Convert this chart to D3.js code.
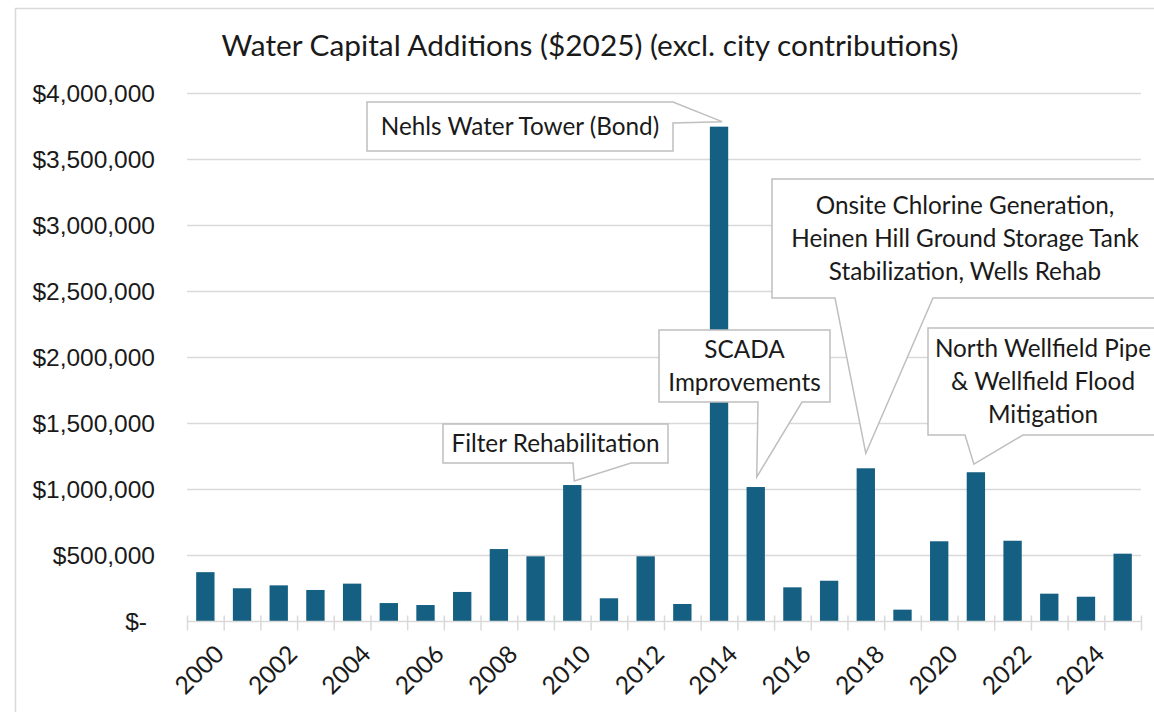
<!DOCTYPE html>
<head>
  <meta charset="utf-8">
  <script src="https://d3js.org/d3.v7.min.js"></script>
  <style>
    body { margin: 0; background: #fff; }
    svg { display: block; }
  </style>
</head>
<body>
  <svg width="1154" height="712"></svg>
  <script>
    // data
    var years = [2000, 2001, 2002, 2003, 2004, 2005, 2006, 2007, 2008, 2009, 2010, 2011, 2012,
                 2013, 2014, 2015, 2016, 2017, 2018, 2019, 2020, 2021, 2022, 2023, 2024, 2025];
    var additions = [370000, 248000, 270000, 235000, 283000, 136000, 121000, 220000, 545000, 490000,
                     1030000, 172000, 490000, 129000, 3745000, 1015000, 255000, 305000, 1157000, 86000,
                     604000, 1127000, 608000, 207000, 184000, 510000];
    var yTicks = [0, 500000, 1000000, 1500000, 2000000, 2500000, 3000000, 3500000, 4000000];
    var xLabelYears = [2000, 2002, 2004, 2006, 2008, 2010, 2012, 2014, 2016, 2018, 2020, 2022, 2024];
    var noteYears = [2014, 2010, 2015, 2018, 2021];
    var noteTexts = [
      ["Nehls Water Tower (Bond)"],
      ["Filter Rehabilitation"],
      ["SCADA", "Improvements"],
      ["Onsite Chlorine Generation,", "Heinen Hill Ground Storage Tank", "Stabilization, Wells Rehab"],
      ["North Wellfield Pipe", "& Wellfield Flood", "Mitigation"]
    ];

    // callout layout: box, tail side, tail base, tip offset from bar top
    var noteBoxes = [
      {x0: 367, x1: 673, y0: 102, y1: 151, side: "right", b1: 102, b2: 123, dx: 3, dy: -5},
      {x0: 443, x1: 668, y0: 424, y1: 463, side: "bottom", b1: 573, b2: 631, dx: 2, dy: -4},
      {x0: 659, x1: 830, y0: 330, y1: 402, side: "bottom", b1: 758, b2: 802, dx: 1, dy: -10},
      {x0: 772, x1: 1170, y0: 179, y1: 298, side: "bottom", b1: 835, b2: 933, dx: 0, dy: -15},
      {x0: 928, x1: 1170, y0: 328, y1: 435, side: "bottom", b1: 965, b2: 1023, dx: -2, dy: -8}
    ];

    var margin = {top: 93, right: 13, bottom: 91, left: 187};
    var width = 1154, height = 712;
    var color = "#156082";
    var grid = "#d9d9d9";
    var ink = "#1a1a1a";
    var textFont = "Lato, 'Noto Sans', sans-serif";

    var data = years.map(function(y, i) { return {year: y, value: additions[i]}; });

    var x = d3.scaleBand()
      .domain(years)
      .range([margin.left, width - margin.right])
      .paddingInner(0.5)
      .paddingOuter(0.25);

    var y = d3.scaleLinear()
      .domain([0, 4000000])
      .range([height - margin.bottom, margin.top]);

    var svg = d3.select('svg');

    // outer chart border
    svg.append('rect')
      .attr('x', 15.5).attr('y', 8.5)
      .attr('width', 1160).attr('height', 720)
      .attr('fill', 'none').attr('stroke', grid).attr('stroke-width', 1.5);

    // title
    svg.append('text')
      .attr('x', 590).attr('y', 56)
      .attr('text-anchor', 'middle')
      .style('font-family', textFont)
      .style('font-size', '29.8px')
      .attr('fill', ink)
      .text('Water Capital Additions ($2025) (excl. city contributions)');

    // gridlines
    svg.append('g').selectAll('line')
      .data(yTicks.slice(1))
      .enter().append('line')
      .attr('x1', margin.left).attr('x2', width - margin.right)
      .attr('y1', function(d) { return Math.round(y(d)) + 0.5; })
      .attr('y2', function(d) { return Math.round(y(d)) + 0.5; })
      .attr('stroke', grid).attr('stroke-width', 1.5);

    // y axis labels
    var fmt = d3.format(',');
    svg.append('g').selectAll('text')
      .data(yTicks)
      .enter().append('text')
      .attr('x', function(d) { return d === 0 ? 147 : 155; })
      .attr('y', function(d) { return y(d); })
      .attr('dy', '0.35em')
      .attr('text-anchor', 'end')
      .style('font-family', "'Liberation Sans', Arial, sans-serif")
      .style('font-size', '24.5px')
      .attr('fill', ink)
      .text(function(d) { return d === 0 ? '$-' : '$' + fmt(d); });

    // bars
    svg.append('g').selectAll('rect')
      .data(data)
      .enter().append('rect')
      .attr('x', function(d) { return x(d.year); })
      .attr('y', function(d) { return y(d.value); })
      .attr('width', x.bandwidth())
      .attr('height', function(d) { return y(0) - y(d.value); })
      .attr('fill', color);

    // x axis line + ticks at category boundaries
    var base = Math.round(y(0)) + 0.5;
    svg.append('line')
      .attr('x1', margin.left).attr('x2', width - margin.right)
      .attr('y1', base).attr('y2', base)
      .attr('stroke', grid).attr('stroke-width', 1.5);
    var step = x.step();
    svg.append('g').selectAll('line')
      .data(years.concat([null]))
      .enter().append('line')
      .attr('x1', function(d, i) { return margin.left + i * step + 0.5; })
      .attr('x2', function(d, i) { return margin.left + i * step + 0.5; })
      .attr('y1', base - 6).attr('y2', base + 9)
      .attr('stroke', grid).attr('stroke-width', 1.5);

    // x labels rotated
    svg.append('g').selectAll('text')
      .data(xLabelYears)
      .enter().append('text')
      .attr('transform', function(d) {
        return 'translate(' + (x(d) + x.bandwidth() / 2 + 8) + ',' + (base + 22) + ') rotate(-45)';
      })
      .attr('text-anchor', 'end')
      .attr('dy', '0.7em')
      .style('font-family', textFont)
      .style('font-size', '24.5px')
      .attr('fill', ink)
      .text(function(d) { return d; });

    // callouts
    var notes = svg.append('g');
    noteYears.forEach(function(yr, i) {
      var b = noteBoxes[i];
      var idx = years.indexOf(yr);
      var tx = x(yr) + x.bandwidth() / 2 + b.dx;
      var ty = y(additions[idx]) + b.dy;
      var p;
      if (b.side === 'right') {
        p = 'M' + b.x0 + ',' + b.y0 + 'H' + b.x1 + 'L' + tx + ',' + ty +
            'L' + b.x1 + ',' + b.b2 + 'V' + b.y1 + 'H' + b.x0 + 'Z';
      } else {
        p = 'M' + b.x0 + ',' + b.y0 + 'H' + b.x1 + 'V' + b.y1 + 'H' + b.b2 +
            'L' + tx + ',' + ty + 'L' + b.b1 + ',' + b.y1 + 'H' + b.x0 + 'Z';
      }
      notes.append('path')
        .attr('d', p)
        .attr('fill', '#fff')
        .attr('stroke', '#bfbfbf')
        .attr('stroke-width', 1.5);

      var lines = noteTexts[i];
      var cx = (b.x0 + Math.min(b.x1, 1158)) / 2;
      var lh = 33;
      var cy = (b.y0 + b.y1) / 2 - (lines.length - 1) * lh / 2;
      lines.forEach(function(t, j) {
        notes.append('text')
          .attr('x', cx).attr('y', cy + j * lh)
          .attr('dy', '0.35em')
          .attr('text-anchor', 'middle')
          .style('font-family', textFont)
          .style('font-size', '24.3px')
          .attr('fill', ink)
          .text(t);
      });
    });
  </script>
</body>
